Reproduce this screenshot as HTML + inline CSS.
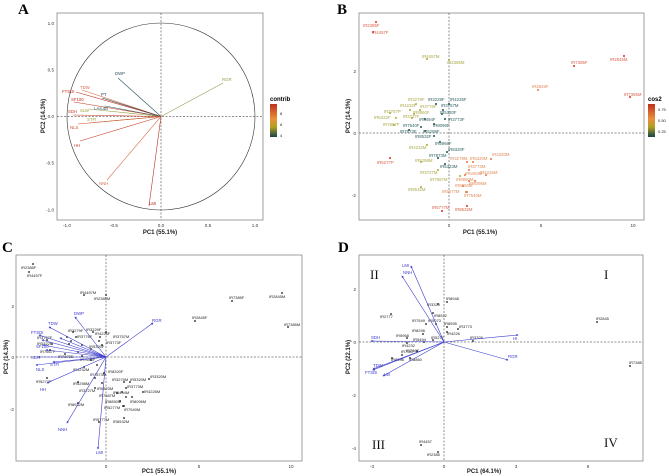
<!DOCTYPE html>
<html><head><meta charset="utf-8"><style>
html,body{margin:0;padding:0;background:#fff;}
svg{display:block;font-family:"Liberation Sans",sans-serif;}
.t{font-size:4.6px;fill:#333;}
.ax{font-size:6px;font-weight:bold;fill:#222;}
.pl{font-family:"Liberation Serif",serif;font-weight:bold;font-size:15px;fill:#000;}
.rn{font-family:"Liberation Serif",serif;font-size:13px;fill:#111;}
.lb{font-size:4.3px;}
.bl{font-size:4.3px;fill:#3a3acc;}
.k{font-size:4px;fill:#222;}
</style></head><body>
<svg width="669" height="476" viewBox="0 0 669 476" xmlns="http://www.w3.org/2000/svg">
<defs>
<linearGradient id="gA" x1="0" y1="0" x2="0" y2="1"><stop offset="0" stop-color="#c0301c"/><stop offset="0.45" stop-color="#e8903a"/><stop offset="0.7" stop-color="#b0a020"/><stop offset="1" stop-color="#15424a"/></linearGradient>
<marker id="ma" markerWidth="4" markerHeight="4" refX="3" refY="2" orient="auto"><path d="M0,0 L4,2 L0,4z" fill="context-stroke"/></marker>
</defs>

<!-- ===== Panel A ===== -->
<text class="pl" x="18" y="14">A</text>
<rect x="57" y="13" width="206" height="207" fill="none" stroke="#888" stroke-width="0.8"/>
<ellipse cx="161" cy="116.5" rx="94" ry="93.5" fill="none" stroke="#333" stroke-width="0.6"/>
<line x1="57" y1="116.5" x2="263" y2="116.5" stroke="#222" stroke-width="0.5" stroke-dasharray="2,1.5"/>
<line x1="161" y1="13" x2="161" y2="220" stroke="#222" stroke-width="0.5" stroke-dasharray="2,1.5"/>
<g stroke-width="0.6" fill="none">
<line x1="161" y1="116.5" x2="118" y2="78" stroke="#2a5560"/>
<line x1="161" y1="116.5" x2="223" y2="83" stroke="#9a9a50"/>
<line x1="161" y1="116.5" x2="82" y2="90" stroke="#d96a4a"/>
<line x1="161" y1="116.5" x2="76" y2="92" stroke="#c0301c"/>
<line x1="161" y1="116.5" x2="102" y2="98" stroke="#1f4448"/>
<line x1="161" y1="116.5" x2="74" y2="102" stroke="#c0301c"/>
<line x1="161" y1="116.5" x2="105" y2="106" stroke="#3a6060"/>
<line x1="161" y1="116.5" x2="89" y2="109" stroke="#9aa040"/>
<line x1="161" y1="116.5" x2="73" y2="115" stroke="#c8402a"/>
<line x1="161" y1="116.5" x2="89" y2="123" stroke="#a0a040"/>
<line x1="161" y1="116.5" x2="78" y2="124" stroke="#d05030"/>
<line x1="161" y1="116.5" x2="80" y2="141" stroke="#c8402a"/>
<line x1="161" y1="116.5" x2="107" y2="180" stroke="#d97050"/>
<line x1="161" y1="116.5" x2="149" y2="206" stroke="#b83020"/>
</g>
<g class="lb">
<text x="115" y="75" fill="#2a5560">DWP</text>
<text x="222" y="81" fill="#9a9a50">RGR</text>
<text x="80" y="89" fill="#d96a4a">TDW</text>
<text x="62" y="93" fill="#c0301c">FTSDI</text>
<text x="101" y="96" fill="#1f4448">PT</text>
<text x="71" y="101" fill="#c0301c">SF100</text>
<text x="94" y="110" fill="#3a6060">LAsubs</text>
<text x="80" y="112" fill="#9aa040">SLW</text>
<text x="68" y="113" fill="#c8402a">SDH</text>
<text x="87" y="121" fill="#a0a040">STFI</text>
<text x="70" y="129" fill="#d05030">NLS</text>
<text x="74" y="147" fill="#c8402a">HH</text>
<text x="99" y="185" fill="#d97050">NNH</text>
<text x="149" y="205" fill="#b83020">LMI</text>
</g>
<g class="t" text-anchor="end">
<text x="54" y="25">1.0</text><text x="54" y="71.5">0.5</text><text x="54" y="118">0.0</text><text x="54" y="164.5">-0.5</text><text x="54" y="211.5">-1.0</text>
</g>
<g class="t" text-anchor="middle">
<text x="67" y="227">-1.0</text><text x="114" y="227">-0.5</text><text x="161" y="227">0.0</text><text x="208" y="227">0.5</text><text x="255" y="227">1.0</text>
</g>
<text class="ax" x="160" y="234" text-anchor="middle">PC1 (55.1%)</text>
<text class="ax" transform="translate(45,116) rotate(-90)" text-anchor="middle">PC2 (14.3%)</text>
<text x="270" y="101" font-size="6" font-weight="bold">contrib</text>
<rect x="270" y="104" width="7" height="33" fill="url(#gA)"/>
<g class="k"><text x="280" y="115">8</text><text x="280" y="126">6</text><text x="280" y="137">4</text></g>

<!-- ===== Panel B ===== -->
<text class="pl" x="337" y="14">B</text>
<rect x="359" y="13" width="285" height="207" fill="none" stroke="#888" stroke-width="0.8"/>
<line x1="359" y1="133" x2="644" y2="133" stroke="#222" stroke-width="0.5" stroke-dasharray="2,1.5"/>
<line x1="449" y1="13" x2="449" y2="220" stroke="#222" stroke-width="0.5" stroke-dasharray="2,1.5"/>
<g class="t" text-anchor="end"><text x="356" y="73">2</text><text x="356" y="135">0</text><text x="356" y="197">-2</text></g>
<g class="t" text-anchor="middle"><text x="449" y="227">0</text><text x="541" y="227">5</text><text x="633" y="227">10</text></g>
<text class="ax" x="480" y="234" text-anchor="middle">PC1 (55.1%)</text>
<text class="ax" transform="translate(350,116) rotate(-90)" text-anchor="middle">PC2 (14.3%)</text>
<text x="648" y="101" font-size="6" font-weight="bold">cos2</text>
<rect x="648" y="104" width="7" height="33" fill="url(#gA)"/>
<g class="k"><text x="658" y="111">0.75</text><text x="658" y="122">0.50</text><text x="658" y="133">0.25</text></g>
<g class="lb">
<g fill="#d7301f"><circle cx="376" cy="22" r="1"/><circle cx="373" cy="32" r="1"/><circle cx="574" cy="66" r="1"/><circle cx="624" cy="56" r="1"/><circle cx="630" cy="97" r="1"/><circle cx="390" cy="158" r="1"/><circle cx="442" cy="211" r="1"/><circle cx="467" cy="206" r="1"/></g>
<g fill="#d9604a"><text x="363" y="27">IR2385F</text><text x="372" y="34">IR4457F</text><text x="571" y="64">IR7385F</text><text x="610" y="61">IR2845M</text><text x="624" y="96">IR7385M</text><text x="377" y="164">IR5277P</text><text x="432" y="209">IR5777M</text><text x="455" y="211">IR8532M</text></g>
<g fill="#e8743b"><circle cx="538" cy="90" r="1"/><circle cx="491" cy="159" r="1"/><circle cx="486" cy="175" r="1"/><circle cx="475" cy="181" r="1"/><circle cx="469" cy="181" r="1"/><circle cx="465" cy="175" r="1"/><circle cx="466" cy="192" r="1"/><circle cx="467" cy="192" r="1"/><circle cx="463" cy="186" r="1"/><circle cx="467" cy="162" r="1"/><circle cx="473" cy="162" r="1"/><circle cx="469" cy="170" r="1"/></g>
<g fill="#e08a5a"><text x="532" y="88">IR2845F</text><text x="492" y="156">IR3320M</text><text x="480" y="174">IR4226M</text><text x="469" y="185">IR8096M</text><text x="456" y="181">IR8860M</text><text x="465" y="175">IR5494M</text><text x="442" y="193">IR5277M</text><text x="464" y="197">IR7540M</text><text x="455" y="187">IR8850M</text><text x="450" y="160">IR3279M</text><text x="470" y="160">IR5320M</text><text x="468" y="168">IR3773M</text></g>
<g fill="#b5a828"><circle cx="427" cy="59" r="1"/><circle cx="449" cy="60" r="1"/><circle cx="416" cy="104" r="1"/><circle cx="410" cy="110" r="1"/><circle cx="420" cy="110" r="1"/><circle cx="390" cy="113" r="1"/><circle cx="396" cy="118" r="1"/><circle cx="412" cy="118" r="1"/><circle cx="414" cy="114" r="1"/><circle cx="394" cy="125" r="1"/><circle cx="421" cy="162" r="1"/><circle cx="438" cy="170" r="1"/><circle cx="460" cy="176" r="1"/><circle cx="421" cy="187" r="1"/><circle cx="427" cy="145" r="1"/></g>
<g fill="#a8a84a"><text x="422" y="58">IR4457M</text><text x="447" y="64">IR2385M</text><text x="408" y="101">IR3279F</text><text x="400" y="107">IR4232F</text><text x="420" y="108">IR3776F</text><text x="384" y="113">IR3757P</text><text x="374" y="119">IR5322F</text><text x="403" y="118">IR3727F</text><text x="413" y="114">IR8860F</text><text x="383" y="126">IR7667F</text><text x="415" y="162">IR5298M</text><text x="420" y="174">IR3727M</text><text x="430" y="181">IR7587M</text><text x="408" y="191">IR8532M</text><text x="409" y="149">IR4232M</text></g>
<g fill="#1f4e4f"><circle cx="436" cy="104" r="1"/><circle cx="449" cy="104" r="1"/><circle cx="443" cy="110" r="1"/><circle cx="442" cy="114" r="1"/><circle cx="425" cy="119" r="1"/><circle cx="445" cy="119" r="1"/><circle cx="421" cy="127" r="1"/><circle cx="434" cy="124" r="1"/><circle cx="409" cy="130" r="1"/><circle cx="425" cy="131" r="1"/><circle cx="434" cy="136" r="1"/><circle cx="440" cy="142" r="1"/><circle cx="447" cy="152" r="1"/><circle cx="438" cy="158" r="1"/><circle cx="445" cy="164" r="1"/></g>
<g fill="#2e6060"><text x="428" y="101">IR3229F</text><text x="450" y="101">IR4226F</text><text x="441" y="107">IR3757M</text><text x="440" y="114">IR5320F</text><text x="419" y="121">IR5494F</text><text x="448" y="121">IR3773F</text><text x="403" y="127">IR7540F</text><text x="433" y="127">IR8096F</text><text x="400" y="133">IR7873E</text><text x="423" y="133">IR5298F</text><text x="415" y="138">IR8532F</text><text x="435" y="145">IR5968F</text><text x="448" y="151">IR8320F</text><text x="429" y="157">IR7873M</text><text x="440" y="168">IR5323M</text></g>
</g>

<!-- ===== Panel C ===== -->
<text class="pl" x="2" y="252">C</text>
<rect x="16" y="255" width="286" height="206" fill="none" stroke="#888" stroke-width="0.8"/>
<line x1="16" y1="357" x2="302" y2="357" stroke="#222" stroke-width="0.5" stroke-dasharray="2,1.5"/>
<line x1="106" y1="255" x2="106" y2="461" stroke="#222" stroke-width="0.5" stroke-dasharray="2,1.5"/>
<g class="t" text-anchor="end"><text x="14" y="308">2</text><text x="14" y="359">0</text><text x="14" y="411">-2</text></g>
<g class="t" text-anchor="middle"><text x="106" y="468">0</text><text x="199" y="468">5</text><text x="291" y="468">10</text></g>
<text class="ax" x="159" y="473" text-anchor="middle">PC1 (55.1%)</text>
<text class="ax" transform="translate(8,357) rotate(-90)" text-anchor="middle">PC2 (14.3%)</text>
<g fill="#111">
<circle cx="33" cy="264" r="0.9"/><circle cx="29" cy="272" r="0.9"/><circle cx="84" cy="295" r="0.9"/><circle cx="106" cy="295" r="0.9"/><circle cx="232" cy="301" r="0.9"/><circle cx="282" cy="293" r="0.9"/><circle cx="288" cy="327" r="0.9"/><circle cx="195" cy="321" r="0.9"/><circle cx="73" cy="332" r="0.9"/><circle cx="93" cy="332" r="0.9"/><circle cx="106" cy="332" r="0.9"/><circle cx="67" cy="337" r="0.9"/><circle cx="76" cy="337" r="0.9"/><circle cx="100" cy="337" r="0.9"/><circle cx="47" cy="340" r="0.9"/><circle cx="52" cy="344" r="0.9"/><circle cx="69" cy="344" r="0.9"/><circle cx="71" cy="341" r="0.9"/><circle cx="99" cy="341" r="0.9"/><circle cx="82" cy="345" r="0.9"/><circle cx="102" cy="345" r="0.9"/><circle cx="50" cy="350" r="0.9"/><circle cx="78" cy="352" r="0.9"/><circle cx="91" cy="349" r="0.9"/><circle cx="65" cy="354" r="0.9"/><circle cx="82" cy="356" r="0.9"/><circle cx="91" cy="360" r="0.9"/><circle cx="97" cy="365" r="0.9"/><circle cx="104" cy="373" r="0.9"/><circle cx="84" cy="367" r="0.9"/><circle cx="95" cy="378" r="0.9"/><circle cx="78" cy="382" r="0.9"/><circle cx="102" cy="383" r="0.9"/><circle cx="47" cy="378" r="0.9"/><circle cx="124" cy="382" r="0.9"/><circle cx="130" cy="382" r="0.9"/><circle cx="149" cy="379" r="0.9"/><circle cx="126" cy="388" r="0.9"/><circle cx="95" cy="388" r="0.9"/><circle cx="122" cy="392" r="0.9"/><circle cx="143" cy="392" r="0.9"/><circle cx="117" cy="393" r="0.9"/><circle cx="126" cy="397" r="0.9"/><circle cx="132" cy="397" r="0.9"/><circle cx="123" cy="406" r="0.9"/><circle cx="124" cy="406" r="0.9"/><circle cx="78" cy="403" r="0.9"/><circle cx="120" cy="401" r="0.9"/><circle cx="99" cy="422" r="0.9"/><circle cx="124" cy="418" r="0.9"/>
</g>
<g class="k">
<text x="21" y="269">IR2385F</text><text x="27" y="277">IR4457F</text><text x="80" y="294">IR4457M</text><text x="94" y="300">IR2385M</text><text x="229" y="299">IR7385F</text><text x="269" y="298">IR2845M</text><text x="284" y="326">IR7385M</text><text x="192" y="319">IR2845F</text>
<text x="86" y="331">IR3229F</text><text x="68" y="332">IR3279F</text><text x="95" y="335">IR4226F</text><text x="113" y="338">IR3757M</text><text x="77" y="338">IR3776F</text><text x="106" y="344">IR3773F</text>
<text x="37" y="339">IR3757F</text><text x="37" y="345">IR5322F</text><text x="89" y="348">IR5320F</text><text x="40" y="353">IR7667F</text><text x="80" y="361">IR7540F</text><text x="58" y="358">IR7873E</text>
<text x="108" y="373">IR8320F</text><text x="73" y="371">IR4232M</text><text x="90" y="376">IR7873M</text><text x="73" y="385">IR5298M</text><text x="97" y="390">IR5323M</text><text x="36" y="383">IR5277P</text>
<text x="112" y="381">IR3279M</text><text x="130" y="381">IR5320M</text><text x="150" y="378">IR3320M</text><text x="127" y="388">IR3773M</text><text x="79" y="392">IR3727M</text>
<text x="113" y="394">IR5494M</text><text x="144" y="393">IR4226M</text><text x="99" y="397">IR7587M</text><text x="130" y="403">IR8096M</text><text x="105" y="403">IR8850M</text><text x="104" y="409">IR5277M</text><text x="124" y="411">IR7540M</text>
<text x="68" y="406">IR8532M</text><text x="93" y="421">IR5777M</text><text x="113" y="423">IR8532M</text>
</g>
<g stroke="#3a3acc" stroke-width="0.6" marker-end="url(#ma)">
<line x1="106" y1="357" x2="75" y2="317"/><line x1="106" y1="357" x2="153" y2="323"/><line x1="106" y1="357" x2="49" y2="327"/><line x1="106" y1="357" x2="39" y2="335"/><line x1="106" y1="357" x2="98" y2="449"/><line x1="106" y1="357" x2="67" y2="423"/><line x1="106" y1="357" x2="47" y2="383"/><line x1="106" y1="357" x2="36" y2="365"/><line x1="106" y1="357" x2="38" y2="357"/><line x1="106" y1="357" x2="42" y2="340"/><line x1="106" y1="357" x2="43" y2="345"/><line x1="106" y1="357" x2="46" y2="350"/><line x1="106" y1="357" x2="53" y2="362"/><line x1="106" y1="357" x2="60" y2="338"/>
</g>
<g class="bl">
<text x="74" y="315">DWP</text><text x="152" y="322">RGR</text><text x="48" y="325">TDW</text><text x="31" y="334">FTSDI</text><text x="96" y="454">LMI</text><text x="58" y="431">NNH</text><text x="40" y="391">HH</text><text x="36" y="371">NLS</text><text x="31" y="359">SDH</text><text x="36" y="348">SF100</text><text x="50" y="366">STFI</text>
</g>

<!-- ===== Panel D ===== -->
<text class="pl" x="338" y="252">D</text>
<rect x="359" y="255" width="284" height="206" fill="none" stroke="#888" stroke-width="0.8"/>
<line x1="359" y1="342" x2="643" y2="342" stroke="#222" stroke-width="0.5" stroke-dasharray="2,1.5"/>
<line x1="444" y1="255" x2="444" y2="461" stroke="#222" stroke-width="0.5" stroke-dasharray="2,1.5"/>
<g class="t" text-anchor="end"><text x="356" y="291">2</text><text x="356" y="344">0</text><text x="356" y="397">-2</text><text x="356" y="450">-4</text></g>
<g class="t" text-anchor="middle"><text x="372" y="468">-3</text><text x="444" y="468">0</text><text x="516" y="468">3</text><text x="588" y="468">6</text></g>
<text class="ax" x="484" y="473" text-anchor="middle">PC1 (64.1%)</text>
<text class="ax" transform="translate(350,357) rotate(-90)" text-anchor="middle">PC2 (22.1%)</text>
<text class="rn" x="370" y="279">II</text><text class="rn" x="604" y="279">I</text><text class="rn" x="372" y="449">III</text><text class="rn" x="604" y="447">IV</text>
<g fill="#111">
<circle cx="447" cy="302" r="0.9"/><circle cx="438" cy="304" r="0.9"/><circle cx="433" cy="313" r="0.9"/><circle cx="391" cy="314" r="0.9"/><circle cx="426" cy="324" r="0.9"/><circle cx="436" cy="324" r="0.9"/><circle cx="447" cy="327" r="0.9"/><circle cx="458" cy="329" r="0.9"/><circle cx="423" cy="334" r="0.9"/><circle cx="447" cy="332" r="0.9"/><circle cx="407" cy="338" r="0.9"/><circle cx="424" cy="342" r="0.9"/><circle cx="433" cy="340" r="0.9"/><circle cx="473" cy="341" r="0.9"/><circle cx="407" cy="343" r="0.9"/><circle cx="417" cy="351" r="0.9"/><circle cx="402" cy="355" r="0.9"/><circle cx="392" cy="358" r="0.9"/><circle cx="410" cy="358" r="0.9"/><circle cx="597" cy="322" r="0.9"/><circle cx="630" cy="366" r="0.9"/><circle cx="421" cy="445" r="0.9"/><circle cx="438" cy="452" r="0.9"/>
</g>
<g class="k">
<text x="446" y="300">IR8948</text><text x="427" y="306">IR3320</text><text x="434" y="317">IR8532</text><text x="380" y="318">IR2777</text><text x="412" y="322">IR7549</text><text x="428" y="322">IR5073</text><text x="444" y="325">IR8595</text><text x="459" y="328">IR3773</text><text x="412" y="332">IR8298</text><text x="447" y="335">IR4226</text><text x="396" y="337">IR5968</text><text x="413" y="341">IR5494</text><text x="431" y="339">IR5277</text><text x="470" y="339">IR3329</text><text x="402" y="347">IR4232</text><text x="406" y="352">IR7867</text><text x="401" y="353">IR7587</text><text x="391" y="361">IR8096</text><text x="409" y="361">IR8860</text><text x="596" y="320">IR2845</text><text x="629" y="364">IR7385</text><text x="419" y="443">IR4457</text><text x="427" y="456">IR2385</text>
</g>
<g stroke="#3a3acc" stroke-width="0.6" marker-end="url(#ma)">
<line x1="444" y1="342" x2="411" y2="266"/><line x1="444" y1="342" x2="402" y2="276"/><line x1="444" y1="342" x2="371" y2="341"/><line x1="444" y1="342" x2="518" y2="335"/><line x1="444" y1="342" x2="508" y2="360"/><line x1="444" y1="342" x2="373" y2="369"/><line x1="444" y1="342" x2="373" y2="370"/><line x1="444" y1="342" x2="383" y2="376"/>
</g>
<g class="bl">
<text x="402" y="267">LMI</text><text x="403" y="274">NNH</text><text x="371" y="339">SDH</text><text x="513" y="340">HI</text><text x="508" y="358">RGR</text><text x="373" y="367">TDW</text><text x="365" y="374">FTSDI</text><text x="384" y="376">LW</text>
</g>
</svg>
</body></html>
